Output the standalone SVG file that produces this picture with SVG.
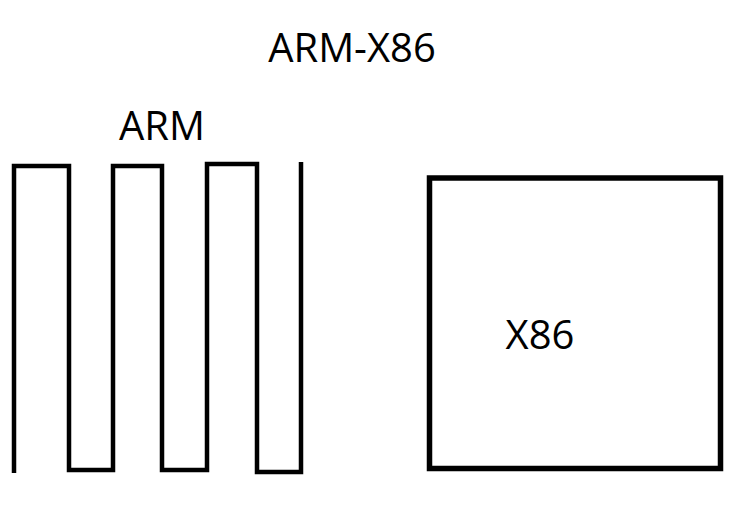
<svg xmlns="http://www.w3.org/2000/svg" width="754" height="506" viewBox="0 0 754 506">
<style>
.t{font-family:"Open Sans","Noto Sans","Liberation Sans",sans-serif;font-size:40px;fill:#000;text-anchor:middle}
.s{fill:none;stroke:#000;stroke-width:4.5;stroke-linejoin:miter}
</style>
<rect width="754" height="506" fill="#fff"/>
<g id="title"><text class="t" x="352" y="62">ARM-X86</text></g>
<g id="arm">
<path class="s" d="M14,473 L14,166 L69,166 L69,470 L113,470 L113,166 L162,166 L162,470 L207,470 L207,164 L257,164 L257,472 L301,472 L301,162"/>
<text class="t" x="162" y="140">ARM</text>
</g>
<g id="x86">
<rect class="s" x="429.5" y="178" width="291" height="290.5" style="stroke-width:5.5"/>
<text class="t" x="540" y="349">X86</text>
</g>
<g id="connectors"></g>
</svg>
